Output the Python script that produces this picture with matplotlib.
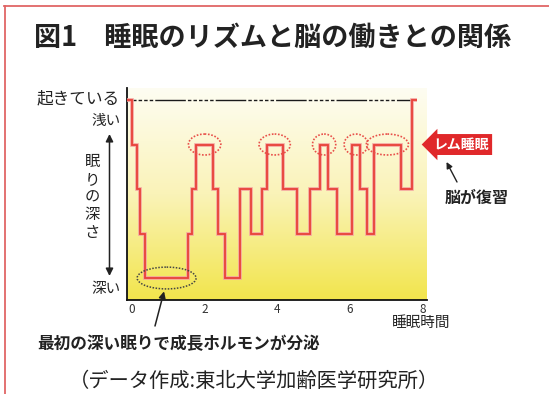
import matplotlib
matplotlib.use("Agg")
import matplotlib.pyplot as plt
import numpy as np
from matplotlib.patches import Ellipse
from matplotlib.lines import Line2D
from matplotlib.colors import LinearSegmentedColormap

plt.rcParams['font.family'] = ['Noto Sans CJK JP', 'DejaVu Sans']

# hypnogram: hour at which each stage starts, and its depth (0 = awake, 4 = deepest)
change_hours = [-0.12, 0.01, 0.15, 0.24, 0.37, 1.55, 1.66, 1.77, 2.24, 2.37, 2.56,
                2.98, 3.28, 3.57, 3.71, 4.15, 4.54, 4.90, 5.18, 5.40, 5.64, 6.05,
                6.28, 6.46, 6.66, 7.40, 7.70]
depth = [0, 1, 2, 3, 4, 3, 2, 1, 2, 3, 4,
         2, 3, 2, 1, 2, 3, 2, 1, 2, 3, 1,
         2, 3, 1, 2, 0]
end_hour = 7.83

hour_ticks = [0, 2, 4, 6, 8]

W, H = 549, 394
fig = plt.figure(figsize=(W / 100, H / 100), dpi=100)


def fx(x):
    return x / W


def fy(y):
    return 1 - y / H


# red frame on top and left
fig.add_artist(Line2D([fx(4), 1], [fy(5.5), fy(5.5)], color='#e06666', lw=1.3))
fig.add_artist(Line2D([fx(4.5), fx(4.5)], [0, fy(5.5)], color='#e06666', lw=1.3))

fig.text(fx(34), fy(38), '図1\u3000睡眠のリズムと脳の働きとの関係', fontsize=19.5,
         fontweight='bold', color='#222222', va='center', ha='left')

ax = fig.add_axes([fx(127), fy(300), fx(427) - fx(127), fy(88) - fy(300)])
x0, x1 = -0.129, 8.118
y_top, y_bot = -0.27, 4.494
ax.set_xlim(x0, x1)
ax.set_ylim(y_bot, y_top)

# pale-to-yellow background
cmap = LinearSegmentedColormap.from_list('bg', ['#fefdf2', '#faf3b8', '#f2e54c'])
grad = np.linspace(0, 1, 256).reshape(-1, 1)
ax.imshow(grad, cmap=cmap, aspect='auto', extent=[x0, x1, y_bot, y_top],
          origin='upper', zorder=0)

# awake reference line
ax.plot([x0, change_hours[-1]], [0, 0], color='#1a1a1a', lw=1.0,
        dashes=[2.5, 1.5, 2.5, 1.5, 2.5, 1.5, 2.5, 1.5, 2.5, 1.5, 22, 1.5], zorder=2)

# sleep depth trace
xs = change_hours + [end_hour]
ys = depth + [depth[-1]]
ax.step(xs, ys, where='post', color='#f4a3a0', lw=2.6, zorder=3,
        solid_capstyle='butt', solid_joinstyle='miter')
ax.step(xs, ys, where='post', color='#e8423a', lw=1.3, zorder=4,
        solid_capstyle='butt', solid_joinstyle='miter')

# dotted rings round the REM episodes and the first deep sleep
for i in range(len(depth) - 1):
    start, stop = change_hours[i], change_hours[i + 1]
    if depth[i] == 1 and start > 1:
        ax.add_patch(Ellipse(((start + stop) / 2, depth[i]), stop - start + 0.42, 0.47,
                             fill=False, ec='#e8504a', lw=1.2, ls=(0, (1, 1)), zorder=5))
deep_i = depth.index(4)
deep_start, deep_stop = change_hours[deep_i], change_hours[deep_i + 1]
deep_mid = (deep_start + deep_stop) / 2
ax.add_patch(Ellipse((deep_mid, 4), deep_stop - deep_start + 0.44, 0.49,
                     fill=False, ec='#444444', lw=1.1, ls=(0, (1, 1)), zorder=5))

for s in ['top', 'right']:
    ax.spines[s].set_visible(False)
ax.spines['left'].set_linewidth(1.3)
ax.spines['bottom'].set_linewidth(1.3)
ax.spines['left'].set_color('#111111')
ax.spines['bottom'].set_color('#111111')
ax.set_yticks([])
ax.set_xticks(hour_ticks)
ax.set_xticklabels([str(h) for h in hour_ticks], fontsize=8.5, color='#333333')
ax.tick_params(axis='x', length=0, pad=2.5)

# y-axis wording
fig.text(fx(120), fy(99), '起きている', fontsize=12, color='#222222', ha='right', va='center')
fig.text(fx(121), fy(121), '浅い', fontsize=10.5, color='#222222', ha='right', va='center')
fig.text(fx(121), fy(289), '深い', fontsize=10.5, color='#222222', ha='right', va='center')
fig.text(fx(92), fy(197), '\n'.join('眠りの深さ'), fontsize=11, color='#222222',
         ha='center', va='center', linespacing=1.05)
ax.annotate('', xy=(fx(109.5), fy(134)), xytext=(fx(109.5), fy(276)),
            xycoords='figure fraction', textcoords='figure fraction',
            arrowprops=dict(arrowstyle='<|-|>', color='#222222', lw=1.1,
                            mutation_scale=11, shrinkA=0, shrinkB=0))

fig.text(fx(450), fy(323), '睡眠時間', fontsize=10.5, color='#222222', ha='right', va='center')

# REM tag
ax.text(7.93 + 1.12, 1, 'レム睡眠', fontsize=10, fontweight='bold', color='white',
        ha='center', va='center', clip_on=False, zorder=6,
        bbox=dict(boxstyle='larrow,pad=0.25', fc='#e0282a', ec='none'))
ax.annotate('', xy=(fx(446.5), fy(162)), xytext=(fx(457), fy(182)),
            xycoords='figure fraction', textcoords='figure fraction',
            arrowprops=dict(arrowstyle='-|>', color='#222222', lw=1.0,
                            mutation_scale=9, shrinkA=0, shrinkB=0))
fig.text(fx(445), fy(198), '脳が復習', fontsize=11.5, fontweight='bold', color='#222222',
         ha='left', va='center')

# growth hormone note
ax.annotate('', xy=(deep_mid - 0.07, 4.3), xytext=(fx(155), fy(326)),
            xycoords='data', textcoords='figure fraction',
            arrowprops=dict(arrowstyle='-|>', color='#222222', lw=1.1,
                            mutation_scale=10, shrinkA=0, shrinkB=0))
fig.text(fx(37), fy(344), '最初の深い眠りで成長ホルモンが分泌', fontsize=12,
         fontweight='bold', color='#222222', ha='left', va='center')

fig.text(fx(69), fy(381), '（データ作成:東北大学加齢医学研究所）', fontsize=14.6,
         color='#222222', ha='left', va='center')

fig.savefig('out.png', dpi=100)
